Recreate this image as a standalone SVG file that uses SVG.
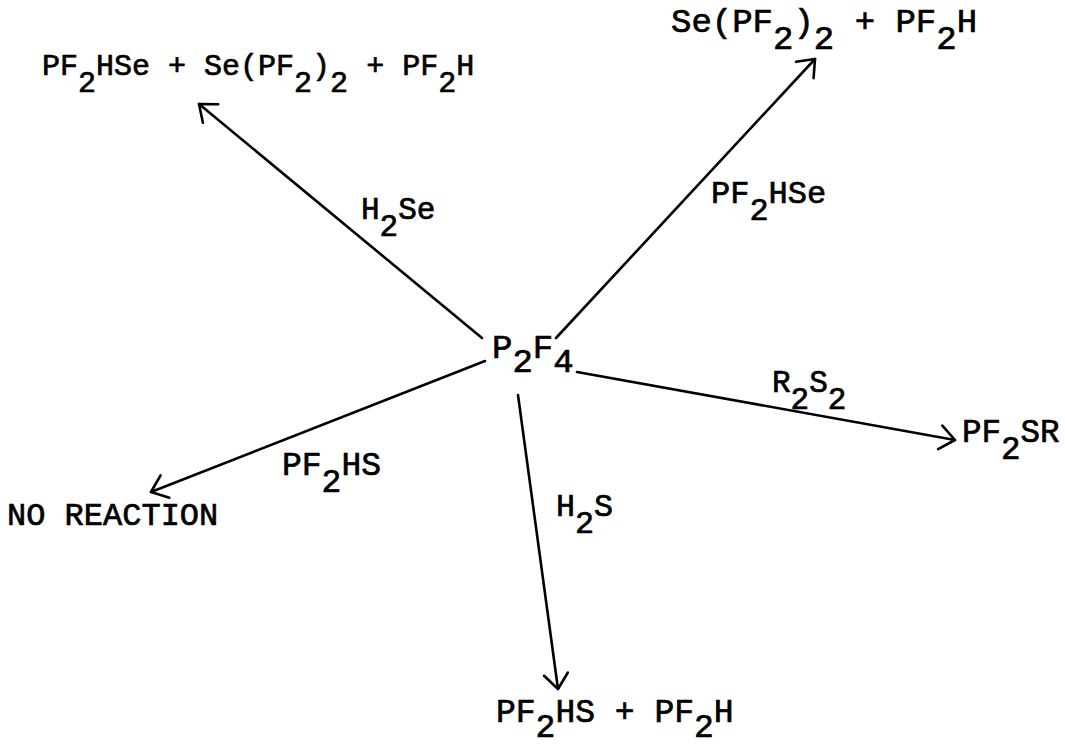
<svg xmlns="http://www.w3.org/2000/svg" width="1065" height="745" viewBox="0 0 1065 745">
<style>
text{font-family:"Liberation Mono","Courier New",monospace;fill:#000;stroke:#000;stroke-width:0.7;white-space:pre}
.ln{stroke:#000;stroke-width:2.6;fill:none;stroke-linecap:round}
</style>
<defs>
<marker id="ah" markerUnits="userSpaceOnUse" viewBox="-20 -16 24 32" markerWidth="24" markerHeight="32" refX="0" refY="0" orient="auto">
<path d="M-15,-12 L0,0 L-15,12" fill="none" stroke="#000" stroke-width="2.6" stroke-linecap="round" stroke-linejoin="round"/>
</marker>
</defs>
<rect width="1065" height="745" fill="#fff"/>
<g id="connectors">
<line class="ln" x1="482" y1="338" x2="199" y2="104" marker-end="url(#ah)"/>
<line class="ln" x1="556" y1="338" x2="815" y2="59" marker-end="url(#ah)"/>
<line class="ln" x1="577" y1="372" x2="955" y2="440" marker-end="url(#ah)"/>
<line class="ln" x1="485" y1="361" x2="151" y2="492" marker-end="url(#ah)"/>
<line class="ln" x1="518" y1="395" x2="558" y2="689" marker-end="url(#ah)"/>
</g>
<g id="center"><text x="492" y="358" font-size="34" xml:space="preserve">P<tspan dy="14">2</tspan><tspan dy="-14">F</tspan><tspan dy="14">4</tspan></text></g>
<g id="product-h2se"><text x="42" y="75" font-size="30" xml:space="preserve">PF<tspan dy="17">2</tspan><tspan dy="-17">HSe + Se(PF</tspan><tspan dy="17">2</tspan><tspan dy="-17">)</tspan><tspan dy="17">2</tspan><tspan dy="-17"> + PF</tspan><tspan dy="17">2</tspan><tspan dy="-17">H</tspan></text></g>
<g id="product-pf2hse"><text x="671" y="32" font-size="34" xml:space="preserve">Se(PF<tspan dy="17">2</tspan><tspan dy="-17">)</tspan><tspan dy="17">2</tspan><tspan dy="-17"> + PF</tspan><tspan dy="17">2</tspan><tspan dy="-17">H</tspan></text></g>
<g id="product-r2s2"><text x="962" y="442" font-size="32.5" xml:space="preserve">PF<tspan dy="17">2</tspan><tspan dy="-17">SR</tspan></text></g>
<g id="product-pf2hs"><text x="7" y="525" font-size="32" xml:space="preserve">NO REACTION</text></g>
<g id="product-h2s"><text x="496" y="722" font-size="33" xml:space="preserve">PF<tspan dy="15">2</tspan><tspan dy="-15">HS + PF</tspan><tspan dy="15">2</tspan><tspan dy="-15">H</tspan></text></g>
<g id="labels">
<text x="361" y="219" font-size="31" xml:space="preserve">H<tspan dy="17">2</tspan><tspan dy="-17">Se</tspan></text>
<text x="711" y="203" font-size="32" xml:space="preserve">PF<tspan dy="17">2</tspan><tspan dy="-17">HSe</tspan></text>
<text x="772" y="392" font-size="31" xml:space="preserve">R<tspan dy="17">2</tspan><tspan dy="-17">S</tspan><tspan dy="17">2</tspan></text>
<text x="282" y="475" font-size="33" xml:space="preserve">PF<tspan dy="17">2</tspan><tspan dy="-17">HS</tspan></text>
<text x="556" y="516" font-size="31.7" xml:space="preserve">H<tspan dy="17">2</tspan><tspan dy="-17">S</tspan></text>
</g>
</svg>
